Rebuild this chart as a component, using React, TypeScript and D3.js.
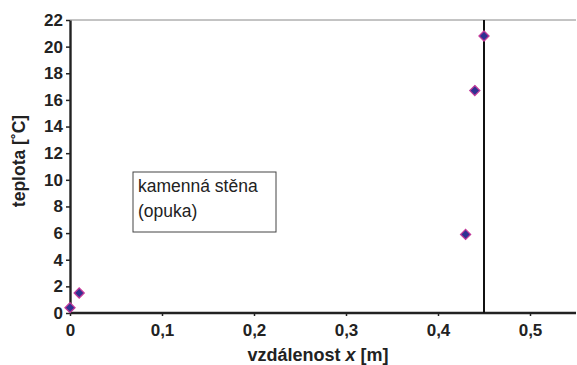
import React, { useEffect, useRef } from 'react';
import * as d3 from 'd3';

// measured points: distance x [m] and temperature [°C]
const distances = [0, 0.01, 0.43, 0.44, 0.45];
const temperatures = [0.4, 1.5, 5.9, 16.7, 20.8];
const xTicks = [0, 0.1, 0.2, 0.3, 0.4, 0.5];
const yTicks = [0, 2, 4, 6, 8, 10, 12, 14, 16, 18, 20, 22];
const wallPosition = 0.45;
const noteLines = ['kamenná stěna', '(opuka)'];

const WIDTH = 577;
const HEIGHT = 365;
const FONT = "'Liberation Sans', Arial, sans-serif";

export default function App() {
  const svgRef = useRef<SVGSVGElement>(null);

  useEffect(() => {
    const svg = d3.select(svgRef.current);
    svg.selectAll('*').remove();

    const margin = { top: 20, right: 1, bottom: 52, left: 70 };
    const innerW = WIDTH - margin.left - margin.right;
    const innerH = HEIGHT - margin.top - margin.bottom;

    const x = d3.scaleLinear().domain([0, 0.55]).range([0, 0.55 * 920]);
    const y = d3.scaleLinear().domain([0, 22]).range([innerH, 0]);

    const g = svg.append('g').attr('transform', `translate(${margin.left},${margin.top})`);

    // top frame line
    g.append('line')
      .attr('x1', 0).attr('x2', innerW)
      .attr('y1', 0).attr('y2', 0)
      .attr('stroke', '#888').attr('stroke-width', 1);

    // x axis
    const xAxis = g.append('g')
      .attr('transform', `translate(0,${innerH})`)
      .call(d3.axisBottom(x).tickValues(xTicks).tickSize(3).tickSizeOuter(0)
        .tickFormat(d => String(d).replace('.', ',')));
    xAxis.select('.domain').attr('stroke', '#222').attr('stroke-width', 2.4)
      .attr('d', `M0,0H${innerW}`);
    xAxis.selectAll('line').attr('stroke', '#222').attr('stroke-width', 1.5);
    xAxis.selectAll('text')
      .attr('y', 11)
      .attr('dy', '0.71em')
      .attr('font-family', FONT)
      .attr('font-size', 17)
      .attr('font-weight', 'bold')
      .attr('fill', '#222');

    // y axis
    const yAxis = g.append('g')
      .call(d3.axisLeft(y).tickValues(yTicks).tickSize(4).tickSizeOuter(0));
    yAxis.select('.domain').attr('stroke', '#222').attr('stroke-width', 2.4);
    yAxis.selectAll('line').attr('stroke', '#222').attr('stroke-width', 1.5);
    yAxis.selectAll('text')
      .attr('x', -7)
      .attr('font-family', FONT)
      .attr('font-size', 17)
      .attr('font-weight', 'bold')
      .attr('fill', '#222');

    // wall boundary
    g.append('line')
      .attr('x1', x(wallPosition)).attr('x2', x(wallPosition))
      .attr('y1', 0).attr('y2', innerH)
      .attr('stroke', '#111').attr('stroke-width', 2);

    // note box
    const box = g.append('g').attr('transform', 'translate(63,152)');
    box.append('rect')
      .attr('width', 143).attr('height', 60)
      .attr('fill', '#fff').attr('stroke', '#444').attr('stroke-width', 1);
    box.selectAll('text.note')
      .data(noteLines)
      .enter()
      .append('text')
      .attr('class', 'note')
      .attr('x', 5)
      .attr('y', (_, i) => 20 + i * 25)
      .attr('font-family', FONT)
      .attr('font-size', 17.5)
      .attr('fill', '#222')
      .text(d => d);

    // data markers
    const pts = distances.map((d, i) => ({ x: d, t: temperatures[i] }));
    g.selectAll('.pt')
      .data(pts)
      .enter()
      .append('path')
      .attr('class', 'pt')
      .attr('transform', d => `translate(${x(d.x)},${y(d.t)})`)
      .attr('d', d3.symbol().type(d3.symbolDiamond2).size(64)() as string)
      .attr('fill', '#2e3192')
      .attr('stroke', '#c23a9a')
      .attr('stroke-width', 1.3);

    // axis titles
    svg.append('text')
      .attr('transform', 'translate(25,161) rotate(-90)')
      .attr('text-anchor', 'middle')
      .attr('font-family', FONT)
      .attr('font-size', 17.5)
      .attr('font-weight', 'bold')
      .attr('fill', '#222')
      .text('teplota [˚C]');

    const xt = svg.append('text')
      .attr('x', 318)
      .attr('y', 361)
      .attr('text-anchor', 'middle')
      .attr('font-family', FONT)
      .attr('font-size', 18)
      .attr('font-weight', 'bold')
      .attr('fill', '#222');
    xt.append('tspan').text('vzdálenost ');
    xt.append('tspan').attr('font-style', 'italic').text('x');
    xt.append('tspan').text(' [m]');
  }, []);

  return (
    <svg
      ref={svgRef}
      width={WIDTH}
      height={HEIGHT}
      style={{ position: 'absolute', left: 0, top: 0, background: '#fff' }}
    />
  );
}
